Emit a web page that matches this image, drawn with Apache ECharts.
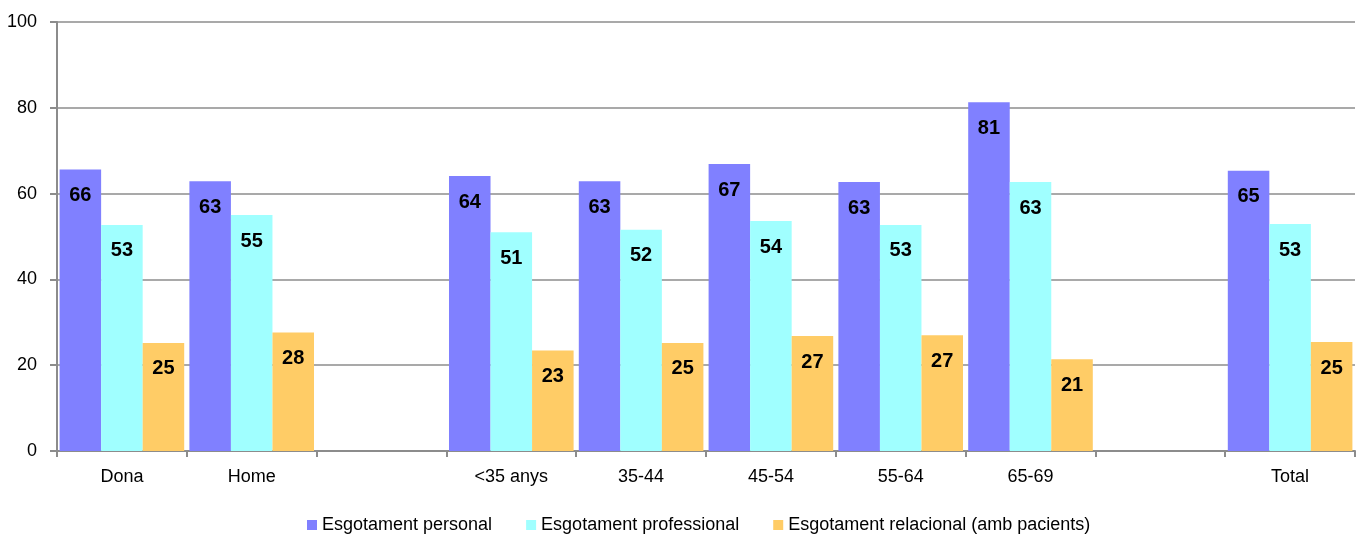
<!DOCTYPE html>
<html>
<head>
<meta charset="utf-8">
<script src="https://cdn.jsdelivr.net/npm/echarts@6/dist/echarts.min.js"></script>
<style>
html,body{margin:0;padding:0;background:#fff;}
#chart{width:1362px;height:535px;}
</style>
</head>
<body>
<div id="chart"></div>
<script>
var categories = ['Dona', 'Home', '', '<35 anys', '35-44', '45-54', '55-64', '65-69', '', 'Total'];
var seriesNames = ['Esgotament personal', 'Esgotament professional', 'Esgotament relacional (amb pacients)'];
var personal = [65.6, 62.9, null, 64.1, 62.9, 66.9, 62.7, 81.3, null, 65.3];
var professional = [52.7, 55.0, null, 51.0, 51.6, 53.6, 52.7, 62.7, null, 52.9];
var relacional = [25.2, 27.6, null, 23.4, 25.2, 26.8, 27.0, 21.4, null, 25.4];
var yTicks = [0, 20, 40, 60, 80, 100];
var colors = ['#8080FF', '#A0FFFF', '#FFCC66'];

var chart = echarts.init(document.getElementById('chart'), null, {renderer: 'canvas'});
var axisFont = 'Liberation Sans Narrow, Arial Narrow, Liberation Sans, Arial, sans-serif';

function mkSeries(name, data, color) {
  return {
    name: name,
    type: 'bar',
    data: data,
    barGap: '0%',
    barCategoryGap: '4%',
    itemStyle: {color: color},
    label: {
      show: true,
      position: 'insideTop',
      distance: 16,
      color: '#000',
      fontFamily: axisFont,
      fontWeight: 'bold',
      fontSize: 20,
      formatter: function (p) { return p.value == null ? '' : Math.round(p.value); }
    },
    emphasis: {disabled: true},
    animation: false
  };
}

chart.setOption({
  animation: false,
  color: colors,
  grid: {left: 57, right: 7, top: 22, bottom: 84, containLabel: false},
  legend: {
    left: 302,
    top: 511,
    itemWidth: 10,
    itemHeight: 10,
    itemGap: 34,
    icon: 'rect',
    textStyle: {fontFamily: axisFont, fontSize: 18, color: '#000'},
    data: seriesNames
  },
  xAxis: {
    type: 'category',
    data: categories,
    axisLine: {lineStyle: {color: '#8c8c8c', width: 2}},
    axisTick: {show: true, length: 6, alignWithLabel: false, lineStyle: {color: '#8c8c8c', width: 2}},
    axisLabel: {color: '#000', fontFamily: axisFont, fontSize: 18, margin: 17, interval: 0}
  },
  yAxis: {
    type: 'value',
    min: 0,
    max: 100,
    interval: 20,
    axisLine: {show: true, lineStyle: {color: '#8c8c8c', width: 2}},
    axisTick: {show: true, length: 7, lineStyle: {color: '#8c8c8c', width: 2}},
    splitLine: {show: true, lineStyle: {color: '#8c8c8c', width: 1.5}},
    axisLabel: {color: '#000', fontFamily: axisFont, fontSize: 18, margin: 20,
      formatter: function (v) { return yTicks.indexOf(v) >= 0 ? String(v) : ''; }}
  },
  series: [
    mkSeries(seriesNames[0], personal, colors[0]),
    mkSeries(seriesNames[1], professional, colors[1]),
    mkSeries(seriesNames[2], relacional, colors[2])
  ]
});
</script>
</body>
</html>
